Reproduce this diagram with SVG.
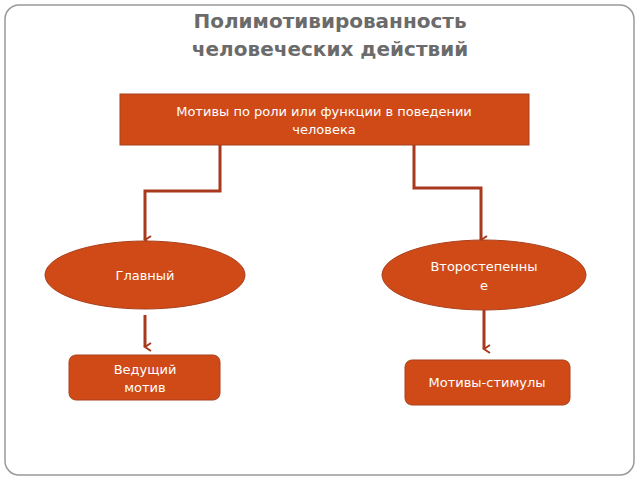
<svg xmlns="http://www.w3.org/2000/svg" width="640" height="480" viewBox="0 0 640 480">
<style>
text{font-family:"DejaVu Sans","Noto Sans",sans-serif;fill:#fff;font-size:13px;text-anchor:middle}
.n{fill:#d04a18;stroke:#a8401c;stroke-width:1}
.c{fill:none;stroke:#a8391c;stroke-width:3}
</style>
<defs><marker id="a" markerWidth="10" markerHeight="10" refX="5" refY="8" orient="auto-start-reverse" markerUnits="userSpaceOnUse" viewBox="0 0 10 10"><path d="M1,2 L5,8 L9,2" fill="none" stroke="#a8391c" stroke-width="2"/></marker></defs>
<rect x="5" y="5" width="629" height="470" rx="14" fill="#fff" stroke="#999" stroke-width="1.5"/>
<text x="330" y="28" style="font-size:20px;font-weight:bold;fill:#6b6b6b">Полимотивированность</text>
<text x="330" y="56" style="font-size:20px;font-weight:bold;fill:#6b6b6b">человеческих действий</text>
<g id="connectors">
<path class="c" d="M220,145 V191 H145 V240" marker-end="url(#a)"/>
<path class="c" d="M414,145 V188 H481 V240" marker-end="url(#a)"/>
<path class="c" d="M145,315 V347" marker-end="url(#a)"/>
<path class="c" d="M484,310 V349" marker-end="url(#a)"/>
</g>
<g id="top"><rect class="n" x="120" y="94" width="409" height="51"/><text x="324" y="116">Мотивы по роли или функции в поведении</text><text x="324" y="134">человека</text></g>
<g id="main"><ellipse class="n" cx="145" cy="275" rx="100" ry="34"/><text x="145" y="280">Главный</text></g>
<g id="second"><ellipse class="n" cx="484" cy="275" rx="102" ry="35"/><text x="484" y="271">Второстепенны</text><text x="484" y="290">е</text></g>
<g id="lead"><rect class="n" x="69" y="355" width="151" height="45" rx="7"/><text x="145" y="374">Ведущий</text><text x="145" y="392">мотив</text></g>
<g id="stim"><rect class="n" x="405" y="360" width="165" height="45" rx="7"/><text x="487" y="387">Мотивы-стимулы</text></g>
</svg>
